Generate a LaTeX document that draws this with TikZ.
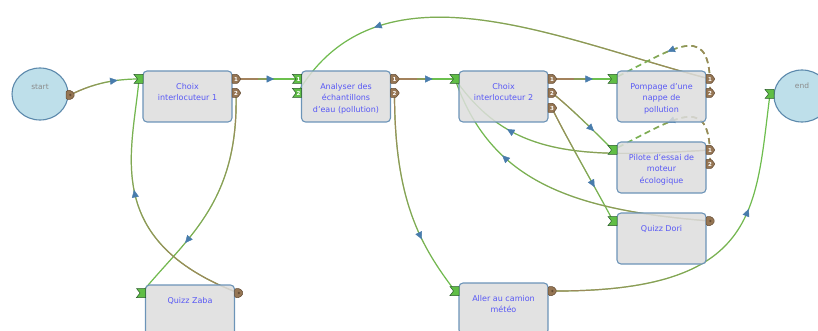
\documentclass[tikz,border=0pt]{standalone}
\usepackage{fontspec}
\setmainfont{DejaVu Sans}
\usetikzlibrary{arrows.meta,decorations.markings,fadings,shapes.geometric}

\definecolor{boxfill}{RGB}{221,221,221}
\definecolor{boxedge}{RGB}{108,148,184}
\definecolor{boxtext}{RGB}{88,88,245}
\definecolor{circfill}{RGB}{190,223,234}
\definecolor{circedge}{RGB}{92,137,172}
\definecolor{circtext}{RGB}{140,140,140}
\definecolor{flowbrown}{RGB}{163,130,92}
\definecolor{flowgreen}{RGB}{108,192,78}
\definecolor{portbrown}{RGB}{150,118,84}
\definecolor{portbrowndark}{RGB}{100,76,52}
\definecolor{portgreen}{RGB}{96,190,70}
\definecolor{portgreendark}{RGB}{40,90,40}
\definecolor{tipblue}{RGB}{72,124,172}

% brown part of a connector stays opaque on the side of its source
\tikzfading[name=srcwest, left color=transparent!0, right color=transparent!100]
\tikzfading[name=srceast, left color=transparent!100, right color=transparent!0]
\tikzfading[name=srcnorth, top color=transparent!0, bottom color=transparent!100]
\tikzfading[name=srcsouth, top color=transparent!100, bottom color=transparent!0]

\tikzset{
  flowline/.style={line width=1.2pt},
  flowtip/.tip={Triangle[length=7.5pt,width=7pt,color=tipblue]},
  loopline/.style={line width=1.6pt, dash pattern=on 6pt off 4pt},
  stepbox/.style={draw=boxedge, line width=1.1pt, fill=boxfill, fill opacity=0.85,
    rounded corners=4pt, minimum width=89pt, minimum height=51pt, inner sep=0pt},
  steptext/.style={text=boxtext, anchor=north, align=center, inner sep=0pt,
    font=\fontsize{8}{11.5}\selectfont},
  stepcircle/.style={ellipse, draw=circedge, line width=1.1pt, fill=circfill,
    minimum width=56pt, minimum height=52pt, inner sep=0pt},
  circlabel/.style={text=circtext, inner sep=0pt, font=\fontsize{7.5}{9}\selectfont},
  portnum/.style={text=white, inner sep=0pt, font=\fontsize{5.5}{5.5}\selectfont\bfseries},
  outport/.pic={
    \path[fill=portbrown, draw=portbrowndark, line width=0.5pt, rounded corners=0.8pt]
      (-4,-4.5) -- (1.5,-4.5) -- (5,0) -- (1.5,4.5) -- (-4,4.5) -- cycle;
    \node[portnum] at (0,0) {#1};
  },
  dotport/.pic={
    \path[fill=portbrown, draw=portbrowndark, line width=0.5pt, rounded corners=1.5pt]
      (-4,-4.5) -- (1.5,-4.5) -- (5,0) -- (1.5,4.5) -- (-4,4.5) -- cycle;
    \fill[portbrowndark] (0.3,0) circle (1.3pt);
  },
  inport/.pic={
    \path[fill=portgreen, draw=portgreendark, line width=0.5pt]
      (-5,-4.5) -- (4,-4.5) -- (4,4.5) -- (-5,4.5) -- (-1.5,0) -- cycle;
  },
  inportnum/.pic={
    \path[fill=portgreen, draw=portgreendark, line width=0.5pt]
      (-5,-4.5) -- (4,-4.5) -- (4,4.5) -- (-5,4.5) -- (-1.5,0) -- cycle;
    \node[portnum] at (1,0) {#1};
  },
}

% curved connector: [extra style]{fading}{arrow position}{source}{controls}{target}
\newcommand\flow[6][]{%
  \draw[flowline, flowgreen, #1] (#4) #5 (#6);
  \draw[flowline, flowbrown, path fading=#2, #1] (#4) #5 (#6);
  \path[decorate, decoration={markings, mark=at position #3 with {\arrow{flowtip}}}] (#4) #5 (#6);
}
% short straight connector: {arrow position}{source}{target}
\newcommand\straightflow[3]{%
  \draw[flowline, flowgreen] (#2) -- (#3);
  \draw[flowline, flowbrown!55!flowgreen, dash pattern=on 34pt off 200pt] (#2) -- (#3);
  \draw[flowline, flowbrown, dash pattern=on 22pt off 200pt] (#2) -- (#3);
  \path[decorate, decoration={markings, mark=at position #1 with {\arrow{flowtip}}}] (#2) -- (#3);
}

\begin{document}
\begin{tikzpicture}[x=1pt,y=-1pt]
\useasboundingbox (0,0) rectangle (818,331);
\clip (0,0) rectangle (818,331);

% ports
\coordinate (so)    at (70,95);
\coordinate (ein)   at (770,94);
\coordinate (c1in)  at (139,79);
\coordinate (c1o1)  at (236,79);
\coordinate (c1o2)  at (236,93);
\coordinate (anin1) at (297.5,79);
\coordinate (anin2) at (297.5,93);
\coordinate (ano1)  at (394.5,79);
\coordinate (ano2)  at (394.5,93);
\coordinate (c2in)  at (455,79);
\coordinate (c2o1)  at (552,79);
\coordinate (c2o2)  at (552,93);
\coordinate (c2o3)  at (552,108);
\coordinate (pin)   at (613,79);
\coordinate (po1)   at (710,79);
\coordinate (po2)   at (710,93);
\coordinate (lin)   at (613,150);
\coordinate (lo1)   at (710,150);
\coordinate (lo2)   at (710,164);
\coordinate (din)   at (613,221);
\coordinate (do)    at (710,221);
\coordinate (zin)   at (141.5,293);
\coordinate (zo)    at (238.5,293);
\coordinate (ain)   at (455,291);
\coordinate (ao)    at (552,291);

% connectors
\flow{srcwest}{0.7}{so}{.. controls +(18,-9) and +(-30,0) ..}{c1in}
\straightflow{0.62}{c1o1}{anin1}
\flow{srcnorth}{0.71}{c1o2}{.. controls +(3,110) and +(45,-55) ..}{zin}
\flow{srcsouth}{0.58}{zo}{.. controls +(-138.5,-53) and +(-6,71) ..}{c1in}
\straightflow{0.63}{ano1}{c2in}
\flow{srcnorth}{0.71}{ano2}{.. controls +(0,107) and +(-35,-46) ..}{ain}
\flow{srceast}{0.77}{po1}{.. controls +(-151,-39) and +(82,-138) ..}{anin2}
\straightflow{0.67}{c2o1}{pin}
\flow{srcnorth}{0.68}{c2o2}{.. controls +(18,14) and +(-16,-16) ..}{lin}
\flow{srcnorth}{0.7}{c2o3}{.. controls +(10,22) and +(-9,-18) ..}{din}
\flow{srceast}{0.74}{lo1}{.. controls +(-130,8) and +(55,79) ..}{c2in}
\flow{srceast}{0.71}{do}{.. controls +(-141,-11) and +(35,101) ..}{c2in}
\flow[loopline]{srceast}{0.57}{po2}{.. controls +(2,-73) and +(67,-34) ..}{pin}
\flow[loopline]{srceast}{0.57}{lo2}{.. controls +(2,-73) and +(67,-34) ..}{lin}
\flow{srcwest}{0.66}{ao}{.. controls +(208,1) and +(-15,116) ..}{ein}

% start and end
\node[stepcircle] (start) at (40,94) {};
\node[circlabel] (startlabel) at (40,87) {start};
\node[stepcircle] (end) at (802,96) {};
\node[circlabel] (endlabel) at (802,86) {end};

% steps
\node[stepbox] (bc1) at (187.5,96.5) {};
\node[steptext] (tc1) at (187.5,83) {Choix\\interlocuteur 1};
\node[stepbox] (ban) at (346,96.5) {};
\node[steptext] (tan) at (346,83) {Analyser des\\échantillons\\d'eau (pollution)};
\node[stepbox] (bc2) at (503.5,96.5) {};
\node[steptext] (tc2) at (503.5,83) {Choix\\interlocuteur 2};
\node[stepbox] (bpo) at (661.5,96.5) {};
\node[steptext] (tpo) at (661.5,83) {Pompage d'une\\nappe de\\pollution};
\node[stepbox] (bpi) at (661.5,167.5) {};
\node[steptext] (tpi) at (661.5,154) {Pilote d'essai de\\moteur\\écologique};
\node[stepbox] (bdo) at (661.5,238.5) {};
\node[steptext] (tdo) at (661.5,225) {Quizz Dori};
\node[stepbox] (bza) at (190,310.5) {};
\node[steptext] (tza) at (190,297) {Quizz Zaba};
\node[stepbox] (bal) at (503.5,308.5) {};
\node[steptext] (tal) at (503.5,295) {Aller au camion\\météo};

% port glyphs
\pic at (so) {dotport};
\pic at (ein) {inport};
\pic at (c1in) {inport};
\pic at (c1o1) {outport=1};
\pic at (c1o2) {outport=2};
\pic at (anin1) {inportnum=1};
\pic at (anin2) {inportnum=2};
\pic at (ano1) {outport=1};
\pic at (ano2) {outport=2};
\pic at (c2in) {inport};
\pic at (c2o1) {outport=1};
\pic at (c2o2) {outport=2};
\pic at (c2o3) {outport=3};
\pic at (pin) {inport};
\pic at (po1) {outport=1};
\pic at (po2) {outport=2};
\pic at (lin) {inport};
\pic at (lo1) {outport=1};
\pic at (lo2) {outport=2};
\pic at (din) {inport};
\pic at (do) {dotport};
\pic at (zin) {inport};
\pic at (zo) {dotport};
\pic at (ain) {inport};
\pic at (ao) {dotport};
\end{tikzpicture}
\end{document}
